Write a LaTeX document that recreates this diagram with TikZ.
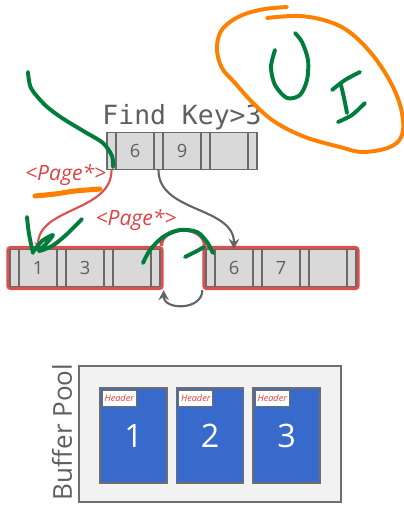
\documentclass[tikz,border=0pt]{standalone}
\usepackage{fontspec}
\setmainfont{Open Sans}
\newfontfamily\monokey{DejaVu Sans Mono}
\usetikzlibrary{matrix,positioning,arrows.meta}

\definecolor{cellfill}{RGB}{217,217,217}
\definecolor{cellline}{RGB}{105,105,105}
\definecolor{keytext}{RGB}{95,95,95}
\definecolor{bpred}{RGB}{222,78,74}
\definecolor{lblred}{RGB}{224,64,64}
\definecolor{arrowgray}{RGB}{100,100,100}
\definecolor{inkgreen}{RGB}{0,125,60}
\definecolor{inkorange}{RGB}{255,128,0}
\definecolor{poolfill}{RGB}{242,242,242}
\definecolor{poolline}{RGB}{110,110,110}
\definecolor{pageblue}{RGB}{56,106,204}

\begin{document}
\begin{tikzpicture}[x=0.25mm,y=-0.25mm,
        keycell/.style={draw=cellline,fill=cellfill,line width=0.8pt,sharp corners,
            anchor=center,minimum width=9.5mm,minimum height=9.25mm,inner sep=0pt,
            text=keytext,font=\fontsize{13}{13}\selectfont},
        ptrcell/.style={keycell,minimum width=2.25mm},
        btnode/.style={matrix of nodes,nodes in empty cells,nodes={keycell},
            column sep=-0.8pt,inner sep=0pt},
        leafbox/.style={draw=bpred,line width=3.6pt,rounded corners=1.5pt,inner sep=0.4pt},
        pagelbl/.style={text=lblred,font=\fontsize{15}{15}\selectfont\itshape,inner sep=0pt},
        ink/.style={line width=2.8pt,line cap=round,line join=round},
        bufpage/.style={draw=poolline,fill=pageblue,line width=1.3pt,
            minimum width=16.75mm,minimum height=23.75mm,inner sep=0pt,
            text=white,font=\fontsize{23}{23}\selectfont},
        hdrbox/.style={draw=poolline,fill=white,line width=0.5pt,
            minimum width=8.5mm,minimum height=4.1mm,inner sep=0pt,
            text=lblred,font=\fontsize{6.5}{6.5}\selectfont\itshape}]
    \useasboundingbox (0,0) rectangle (404,505);

    % inner node and the two leaves
    \matrix (root) [btnode] at (182,151)
    { |[ptrcell]| & 6 & |[ptrcell]| & 9 & |[ptrcell]| & & |[ptrcell]| \\ };
    \matrix (leafa) [btnode,leafbox] at (85,268)
    { |[ptrcell]| & 1 & |[ptrcell]| & 3 & |[ptrcell]| & & |[ptrcell]| \\ };
    \matrix (leafb) [btnode,leafbox] at (281,268)
    { |[ptrcell]| & 6 & |[ptrcell]| & 7 & |[ptrcell]| & & |[ptrcell]| \\ };

    \node (find) [above=0.4mm of root,inner sep=0pt,text=keytext,
        font=\monokey\fontsize{18.8}{18.8}\selectfont] {Find Key>3};

    \path[->,>={Stealth[length=2.5mm,width=2.6mm]},line width=1.5pt]
        (root-1-3.south) edge[draw=arrowgray,out=-90,in=90] (leafb-1-2.north)
        (leafb.south west) edge[draw=arrowgray,out=-90,in=-90,looseness=1.35] (leafa.south east)
        (root-1-1.south) edge[draw=bpred,out=-90,in=90,
            >={Stealth[length=1.8mm,width=1.8mm]}] (leafa-1-2.north)
        ([xshift=-0.6mm]leafa.north east) edge[-,draw=bpred,line width=2.6pt,out=90,in=90,
            looseness=1.25] ([xshift=0.6mm]leafb.north west);

    \node (pga) [pagelbl,anchor=east] at ([yshift=-1.3mm]root-1-1.south west) {<Page*>};
    \node (pgb) [pagelbl] at (136,220) {<Page*>};

    % buffer pool with its three frames
    \node (pool) [draw=poolline,fill=poolfill,line width=1.3pt,inner sep=0pt,
        minimum width=65.5mm,minimum height=34mm] at (210,434) {};
    \node (bplabel) [rotate=90,anchor=south,inner sep=0pt,text=keytext,
        font=\fontsize{18.5}{18.5}\selectfont] at ([xshift=-1.4mm,yshift=0.5mm]pool.west) {Buffer Pool};
    \foreach \n/\x in {1/133.5,2/210,3/286.5} {
        \node (page\n) [bufpage] at (\x,435.5) {\n};
        \node (hdr\n) [hdrbox,anchor=north west] at ([shift={(0.7mm,-0.7mm)}]page\n.north west) {Header};
    }

    % pen marks
    \draw[ink,draw=inkorange] plot[smooth,tension=0.6] coordinates {(287,7) (265,9) (245,14) (230,22)
        (220,33) (217,50) (222,68) (235,83) (253,103) (275,122) (305,137) (340,147) (363,152)
        (390,147) (402,135) (402,113) (393,87) (375,58) (352,34) (330,22) (300,16) (267,18)};
    \draw[draw=inkorange,line width=3.6pt,line cap=round] plot[smooth] coordinates {(35,196) (55,194) (75,191) (100,189)};
    \draw[ink,draw=inkgreen] plot[smooth] coordinates {(28,72) (31,88) (45,105) (62,118) (85,132)
        (103,143) (112,156) (113,167)};
    \draw[ink,draw=inkgreen] plot[smooth] coordinates {(27,217) (29,234) (33,253)};
    \draw[ink,draw=inkgreen] plot[smooth,tension=0.5] coordinates {(33,252) (42,241) (53,235)
        (45,245) (39,251) (52,246) (66,235) (82,219)};
    \draw[ink,draw=inkgreen] plot[smooth] coordinates {(143,263) (150,250) (163,237) (180,230)
        (197,232) (207,242) (213,253)};
    \draw[ink,draw=inkgreen] plot[smooth] coordinates {(185,257) (195,252) (204,247)};
    \draw[ink,draw=inkgreen] plot[smooth] coordinates {(275,50) (271,67) (275,85) (287,98)
        (300,95) (307,80) (308,60) (302,42) (295,33)};
    \draw[ink,draw=inkgreen] plot[smooth] coordinates {(332,90) (345,80) (360,72)};
    \draw[ink,draw=inkgreen] plot[smooth] coordinates {(341,85) (344,98) (347,113)};
    \draw[ink,draw=inkgreen] plot[smooth] coordinates {(338,122) (352,115) (365,103)};
\end{tikzpicture}
\end{document}
